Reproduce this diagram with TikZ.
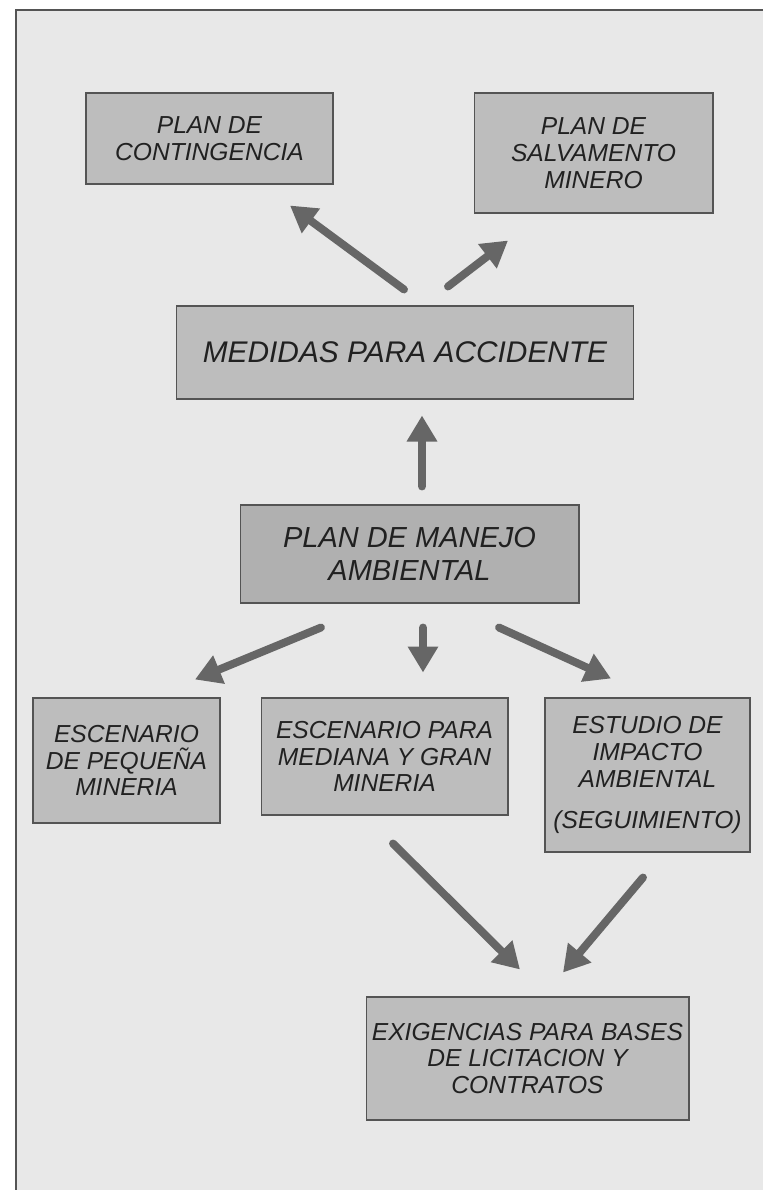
\documentclass[tikz,border=0pt]{standalone}
\usepackage{fontspec}
\setmainfont{Liberation Sans}
\usepackage{xcolor}
\usepackage{tikz}
\usetikzlibrary{arrows.meta,positioning}

\definecolor{fondo}{gray}{0.91}
\definecolor{relleno}{gray}{0.74}
\definecolor{rellenoosc}{gray}{0.69}
\definecolor{borde}{gray}{0.33}
\definecolor{flechagris}{gray}{0.40}
\definecolor{texto}{gray}{0.13}

\begin{document}
\begin{tikzpicture}[
        x=0.02cm, y=-0.02cm,
        caja/.style={draw=borde, line width=0.6pt, fill=relleno, align=center, inner sep=0pt,
                     text=texto, font=\itshape\fontsize{14}{15.3}\selectfont},
        cajaosc/.style={caja, fill=rellenoosc, font=\itshape\fontsize{16.5}{18.8}\selectfont},
        flecha/.style={draw=flechagris, line width=4.5pt, line cap=round,
                       -{Triangle[width=0.58cm, length=0.52cm]}},
    ]
        \useasboundingbox (0,0) rectangle (763,1190);
        \fill[fondo] (16,10) rectangle (763,1190);
        \draw[borde, line width=0.8pt] (16,1190) -- (16,10) -- (763,10);

        \node[caja, minimum width=4.94cm, minimum height=1.82cm] (contin) at (209.5,138.5) {PLAN DE\\CONTINGENCIA};
        \node[caja, minimum width=4.78cm, minimum height=2.4cm]  (salva)  at (593.5,153)   {PLAN DE\\SALVAMENTO\\MINERO};
        \node[caja, minimum width=9.16cm, minimum height=1.86cm, font=\itshape\fontsize{17}{19}\selectfont]
                                                                 (medidas) at (405,352.5)  {MEDIDAS PARA ACCIDENTE};
        \node[cajaosc, minimum width=6.78cm, minimum height=1.96cm] (manejo) at (409.5,554) {PLAN DE MANEJO\\AMBIENTAL};
        \node[caja, minimum width=3.74cm, minimum height=2.5cm]  (pequena) at (126.5,760.5) {ESCENARIO\\DE PEQUEÑA\\MINERIA};
        \node[caja, minimum width=4.94cm, minimum height=2.34cm] (mediana) at (384.5,756.5) {ESCENARIO PARA\\MEDIANA Y GRAN\\MINERIA};
        \node[caja, minimum width=4.1cm, minimum height=3.08cm]  (estudio) at (647.5,775)   {ESTUDIO DE\\IMPACTO\\AMBIENTAL\\[0.28cm](SEGUIMIENTO)};
        \node[caja, minimum width=6.46cm, minimum height=2.46cm] (exig)    at (527.5,1058.5) {EXIGENCIAS PARA BASES\\DE LICITACION Y\\CONTRATOS};

        \draw[flecha] ([xshift=-0.02cm,yshift=0.32cm]medidas.north) -- ([xshift=1.61cm,yshift=-0.42cm]contin.south);
        \draw[flecha] ([xshift=0.86cm,yshift=0.38cm]medidas.north)  -- ([xshift=-1.71cm,yshift=-0.54cm]salva.south);
        \draw[flecha] ([xshift=0.25cm,yshift=0.36cm]manejo.north)   -- ([xshift=0.34cm,yshift=-0.32cm]medidas.south);
        \draw[flecha] ([xshift=-1.77cm,yshift=-0.48cm]manejo.south) -- ([xshift=1.37cm,yshift=0.36cm]pequena.north);
        \draw[flecha] ([xshift=0.27cm,yshift=-0.48cm]manejo.south)  -- ([xshift=0.77cm,yshift=0.5cm]mediana.north);
        \draw[flecha] ([xshift=1.79cm,yshift=-0.48cm]manejo.south)  -- ([xshift=-0.73cm,yshift=0.38cm]estudio.north);
        \draw[flecha] ([xshift=0.17cm,yshift=-0.56cm]mediana.south) -- ([xshift=-0.15cm,yshift=0.54cm]exig.north);
        \draw[flecha] ([xshift=-0.09cm,yshift=-0.5cm]estudio.south) -- ([xshift=0.71cm,yshift=0.48cm]exig.north);
    \end{tikzpicture}
\end{document}
